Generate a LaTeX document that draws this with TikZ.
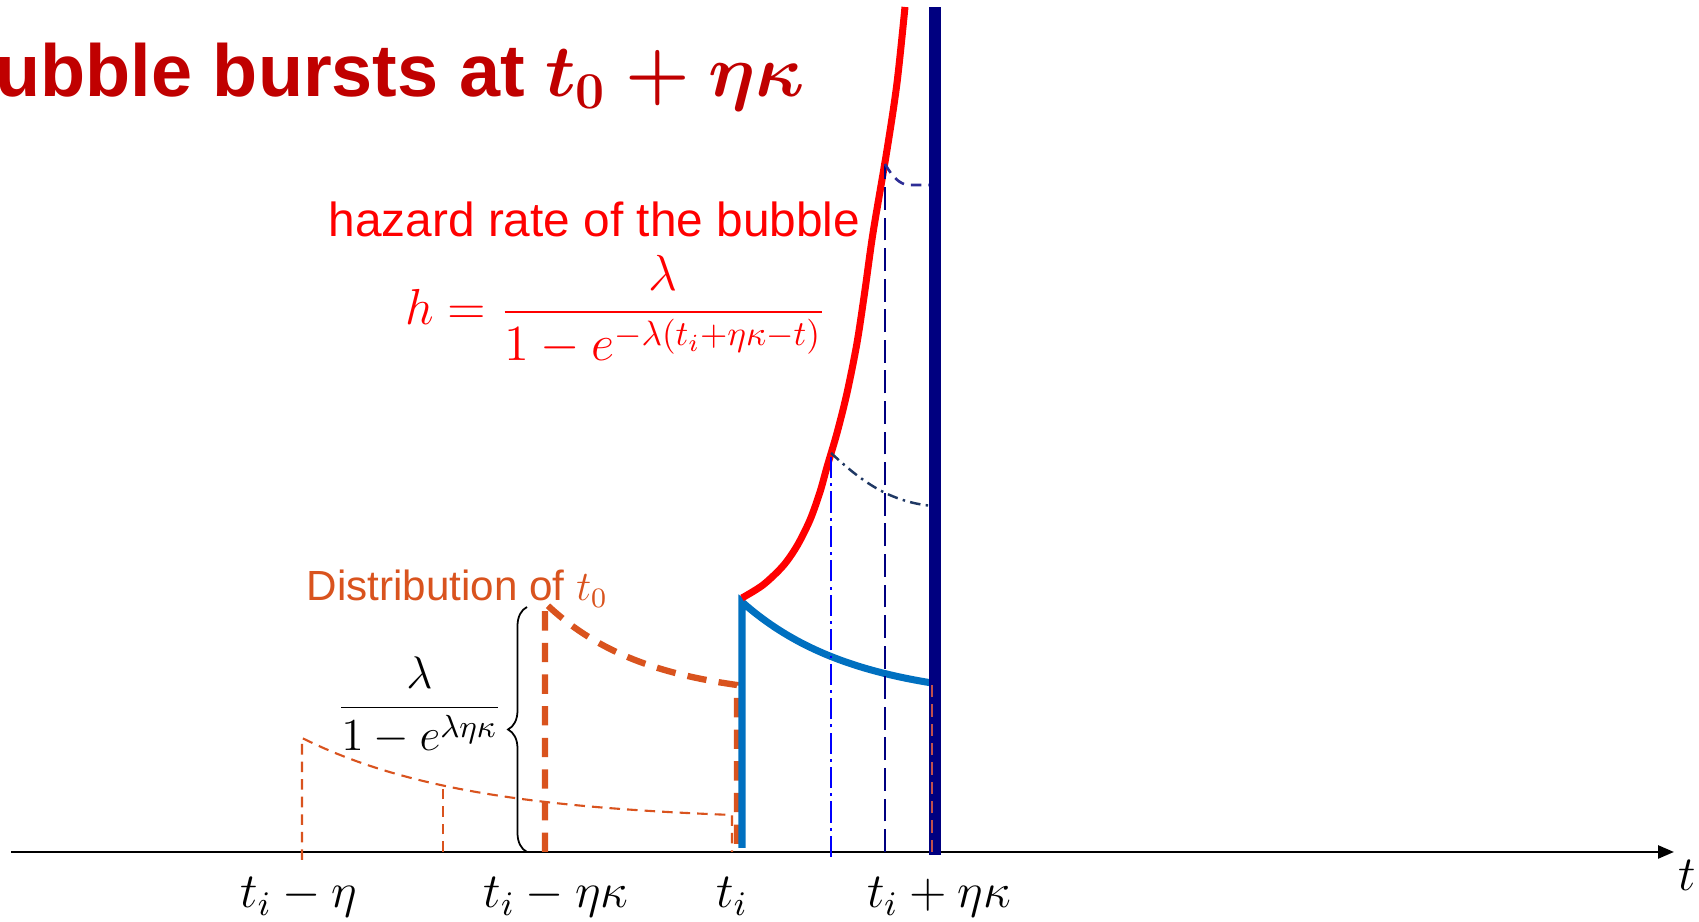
\documentclass[tikz,border=0pt]{standalone}
\usepackage{fix-cm}
\usepackage{amsmath}
\usepackage{fontspec}
\newfontfamily\arialfont{Liberation Sans}
\usetikzlibrary{arrows.meta,decorations.pathreplacing}
\definecolor{titlered}{RGB}{192,0,0}
\definecolor{hazardred}{RGB}{255,0,0}
\definecolor{distorange}{RGB}{217,83,30}
\definecolor{densblue}{RGB}{0,112,192}
\definecolor{burstnavy}{RGB}{0,0,128}
\definecolor{midnavy}{RGB}{45,45,150}
\definecolor{darknavy}{RGB}{31,56,100}
\definecolor{tailbrown}{RGB}{192,80,77}

\begin{document}
\begin{tikzpicture}[
  thickdist/.style={distorange,line width=1.8pt,dash pattern=on 5.5pt off 3.5pt},
  thindist/.style={distorange,line width=0.6pt,dash pattern=on 3pt off 2pt},
  ticklbl/.style={anchor=base,inner sep=0pt,font=\fontsize{14}{17}\selectfont}]
\useasboundingbox (0,-0.70) rectangle (16.99,8.52);
% time axis
\draw[black,line width=0.7pt,-{Triangle[length=0.16cm,width=0.13cm]}] (0.11,0) -- (16.74,0);
\node[ticklbl] (tlbl) at (16.87,-0.385) {$t$};
\node[ticklbl] (tmeta) at (2.99,-0.56) {$t_i-\eta$};
\node[ticklbl] (tmetak) at (5.56,-0.56) {$t_i-\eta\kappa$};
\node[ticklbl] (ti) at (7.32,-0.56) {$t_i$};
\node[ticklbl] (tpetak) at (9.39,-0.56) {$t_i+\eta\kappa$};
% title
\node[anchor=base west,inner sep=0pt,text=titlered,font=\arialfont\bfseries\fontsize{21}{25}\selectfont] (title) at (-0.05,7.55) {ubble bursts at {\boldmath$t_0+\eta\kappa$}};
% distribution of t0
\draw[thindist] (3.02,-0.08) -- plot[domain=3.02:7.32,samples=40] (\x,{0.307+0.833*exp(-0.6*(\x-3.02))}) -- (7.32,0);
\draw[thindist] (4.43,0) -- (4.43,0.65);
\draw[thickdist] (5.45,0) -- plot[domain=5.45:7.37,samples=40] (\x,{1.529+0.961*exp(-(\x-5.45))}) -- (7.37,0);
\node[anchor=base west,inner sep=0pt,text=distorange,font=\arialfont\fontsize{12}{14}\selectfont] (distlbl) at (3.06,2.513) {Distribution of $t_0$};
\draw[black,line width=0.5pt,decorate,decoration={brace,amplitude=0.19cm}] (5.27,0) -- (5.27,2.45);
\node[anchor=base,inner sep=0pt,font=\fontsize{13}{16}\selectfont] (densfrac) at (4.195,1.33) {$\dfrac{\lambda}{1-e^{\lambda\eta\kappa}}$};
% density after t_i
\draw[densblue,line width=2pt] (7.42,0.04) -- plot[domain=7.42:9.32,samples=40] (\x,{1.511+0.989*exp(-0.9*(\x-7.42))});
% hazard rate
\coordinate (hzlow) at (8.31,3.99);
\coordinate (hzhigh) at (8.85,6.88);
\draw[hazardred,line width=2pt] plot[smooth] coordinates {(7.42,2.54) (7.63,2.67) (7.83,2.86) (7.97,3.06) (8.10,3.32) (8.20,3.60) (8.27,3.85) (8.37,4.19) (8.47,4.59) (8.57,5.09) (8.65,5.62) (8.73,6.19) (8.87,7.02) (8.97,7.69) (9.05,8.45)};
\node[anchor=base west,inner sep=0pt,text=hazardred,font=\arialfont\fontsize{13.6}{16}\selectfont] (hazardlbl) at (3.28,6.153) {hazard rate of the bubble};
\node[anchor=base west,inner sep=0pt,text=hazardred,font=\fontsize{14.4}{18}\selectfont] (hazardeq) at (4.045,5.27) {$h=\dfrac{\lambda}{1-e^{-\lambda(t_i+\eta\kappa-t)}}$};
\draw[blue,line width=0.55pt,dash pattern=on 6pt off 1.5pt on 0.8pt off 1.5pt] (8.31,-0.05) -- (hzlow);
\draw[darknavy,line width=0.7pt,dash pattern=on 3pt off 1.5pt on 0.7pt off 1.5pt] (hzlow) .. controls (8.55,3.77) and (8.85,3.50) .. (9.33,3.46);
\draw[burstnavy,line width=0.65pt,dash pattern=on 6.5pt off 2.2pt] (8.85,0) -- (hzhigh);
\draw[midnavy,line width=0.75pt,dash pattern=on 3pt off 2pt] (hzhigh) .. controls (8.93,6.74) and (9.00,6.68) .. (9.08,6.67) -- (9.31,6.67);
% bursting time
\draw[burstnavy,line width=3.2pt] (9.35,-0.03) -- (9.35,8.45);
\draw[tailbrown,line width=0.6pt,dash pattern=on 3.5pt off 2pt] (9.32,0) -- (9.32,1.69);
\end{tikzpicture}
\end{document}
